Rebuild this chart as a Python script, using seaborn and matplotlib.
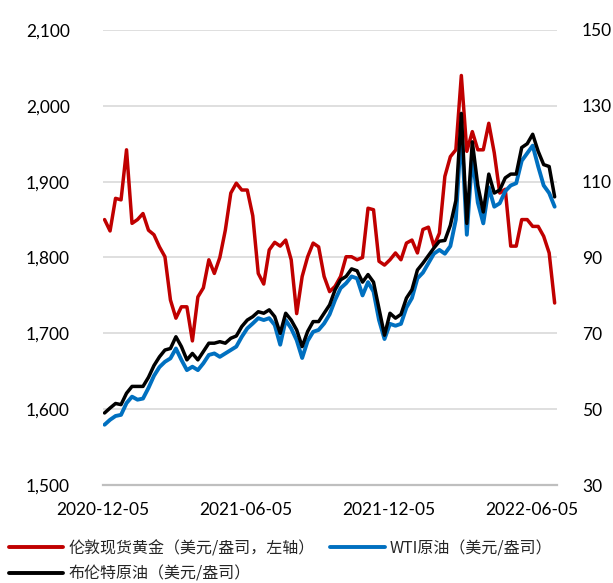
import matplotlib
matplotlib.use("Agg")
import matplotlib.pyplot as plt
import matplotlib.dates as mdates
from matplotlib.ticker import FuncFormatter
from matplotlib.lines import Line2D
import seaborn as sns
import pandas as pd

# ---- data (weekly readings, Mondays from 2020-12-07 to 2022-07-04) ----
start_date = "2020-12-07"
n_weeks = 83

gold = [1850, 1835, 1878, 1876, 1942, 1845, 1850, 1858, 1836, 1830,
        1814, 1801, 1744, 1720, 1735, 1735, 1690, 1748, 1760, 1797,
        1779, 1800, 1836, 1885, 1898, 1889, 1889, 1855, 1779, 1765,
        1810, 1820, 1815, 1823, 1797, 1726, 1775, 1801, 1819, 1814,
        1775, 1755, 1762, 1775, 1801, 1801, 1797, 1800, 1865, 1863,
        1795, 1790, 1797, 1806, 1797, 1819, 1823, 1806, 1837, 1840,
        1815, 1832, 1907, 1933, 1942, 2040, 1940, 1966, 1942, 1942,
        1977, 1938, 1885, 1890, 1815, 1815, 1850, 1850, 1841, 1841,
        1828, 1806, 1740]

wti = [45.9, 47.2, 48.2, 48.5, 51.6, 53.3, 52.5, 52.8, 55.6, 58.8,
       61.1, 62.5, 63.4, 66.0, 63.0, 60.3, 61.2, 60.3, 62.1, 64.3,
       64.7, 63.8, 64.7, 65.6, 66.5, 69.1, 71.3, 72.6, 74.0, 73.5,
       74.0, 72.2, 67.0, 73.5, 71.3, 68.2, 63.5, 68.0, 70.4, 70.9,
       72.6, 75.0, 78.8, 81.9, 83.2, 85.0, 84.5, 80.0, 83.5, 81.0,
       73.5, 68.5, 72.5, 72.0, 72.5, 76.8, 79.3, 84.5, 86.0, 88.5,
       91.0, 92.0, 91.0, 93.0, 100.0, 124.0, 96.0, 117.0, 104.5, 99.0,
       108.5, 103.4, 104.3, 107.5, 109.0, 109.6, 115.5, 117.5, 119.5, 114.0,
       109.0, 107.0, 103.4]

brent = [49.0, 50.3, 51.5, 51.2, 54.2, 56.0, 56.0, 56.0, 58.4, 61.5,
         63.8, 65.6, 66.0, 69.1, 66.5, 63.0, 64.7, 63.0, 65.2, 67.4,
         67.4, 67.8, 67.4, 68.7, 69.3, 71.8, 73.5, 74.4, 75.7, 75.3,
         76.2, 74.4, 70.0, 75.3, 73.5, 70.9, 66.5, 70.5, 73.1, 73.1,
         75.3, 77.5, 81.5, 84.1, 85.0, 87.0, 86.5, 83.5, 85.5, 83.5,
         76.5, 69.5, 75.3, 74.0, 75.0, 79.3, 81.5, 86.7, 88.5, 90.5,
         92.5, 94.3, 94.5, 98.5, 105.0, 128.0, 99.0, 120.5, 109.0, 102.0,
         112.0, 107.0, 107.8, 111.0, 112.0, 112.0, 119.0, 120.0, 122.5, 118.0,
         114.5, 114.0, 106.0]

x_ticks = ["2020-12-05", "2021-06-05", "2021-12-05", "2022-06-05"]
x_range = ["2020-12-05", "2022-07-07"]
left_ticks = [1500, 1600, 1700, 1800, 1900, 2000, 2100]
right_ticks = [30, 50, 70, 90, 110, 130, 150]

label_gold = "伦敦现货黄金（美元/盎司，左轴）"
label_wti = "WTI原油（美元/盎司）"
label_brent = "布伦特原油（美元/盎司）"

dates = pd.date_range(start_date, periods=n_weeks, freq="7D")
df = pd.DataFrame({"date": dates, "gold": gold, "wti": wti, "brent": brent})

# ---- style ----
sns.set_theme(style="white")
plt.rcParams["font.family"] = ["Lato", "Noto Sans CJK SC", "DejaVu Sans"]

RED = "#C00000"
BLUE = "#0070C0"
BLACK = "#000000"

fig = plt.figure(figsize=(6.13, 5.83), dpi=100)
ax = fig.add_axes([103 / 613, 1 - 485 / 583, (557 - 103) / 613, (485 - 30) / 583])
ax2 = ax.twinx()

sns.lineplot(data=df, x="date", y="gold", ax=ax, color=RED, lw=2.5)
sns.lineplot(data=df, x="date", y="wti", ax=ax2, color=BLUE, lw=2.8)
sns.lineplot(data=df, x="date", y="brent", ax=ax2, color=BLACK, lw=2.5)

ax.set_ylim(left_ticks[0], left_ticks[-1])
ax2.set_ylim(right_ticks[0], right_ticks[-1])
ax.set_yticks(left_ticks)
ax2.set_yticks(right_ticks)
ax.yaxis.set_major_formatter(FuncFormatter(lambda v, p: f"{int(v):,}"))
ax2.yaxis.set_major_formatter(FuncFormatter(lambda v, p: f"{int(v)}"))

ax.set_xlim(pd.Timestamp(x_range[0]), pd.Timestamp(x_range[1]))
ax.set_xticks([pd.Timestamp(d) for d in x_ticks])
ax.xaxis.set_major_formatter(mdates.DateFormatter("%Y-%m-%d"))

ax.grid(False)
ax2.grid(False)
ax.yaxis.grid(True, color="#d9d9d9", lw=1.2)
ax.set_axisbelow(True)

for s in ["top", "left", "right"]:
    ax.spines[s].set_visible(False)
for s in ["top", "left", "right", "bottom"]:
    ax2.spines[s].set_visible(False)
ax.spines["bottom"].set_color("#bfbfbf")
ax.spines["bottom"].set_linewidth(1.6)

ax.set_xlabel("")
ax.set_ylabel("")
ax2.set_ylabel("")

ax.tick_params(axis="y", length=0, pad=24, labelsize=12.5, labelcolor="#000000")
ax2.tick_params(axis="y", length=0, pad=18, labelsize=12.5, labelcolor="#000000")
ax.tick_params(axis="x", length=0, pad=12, labelsize=12.5, labelcolor="#000000")

handles = [Line2D([], [], color=RED, lw=2.8),
           Line2D([], [], color=BLACK, lw=2.8),
           Line2D([], [], color=BLUE, lw=2.8)]
labels = [label_gold, label_brent, label_wti]
fig.legend(handles, labels, loc="upper left", bbox_to_anchor=(9 / 613, 1 - 540 / 583),
           ncol=2, frameon=False, handlelength=3.4, handletextpad=0.3,
           columnspacing=1.0, labelspacing=0.55, borderpad=0, borderaxespad=0,
           prop={"family": ["Noto Sans CJK SC", "DejaVu Sans"], "size": 11.5})

fig.savefig("out.png", dpi=100)
